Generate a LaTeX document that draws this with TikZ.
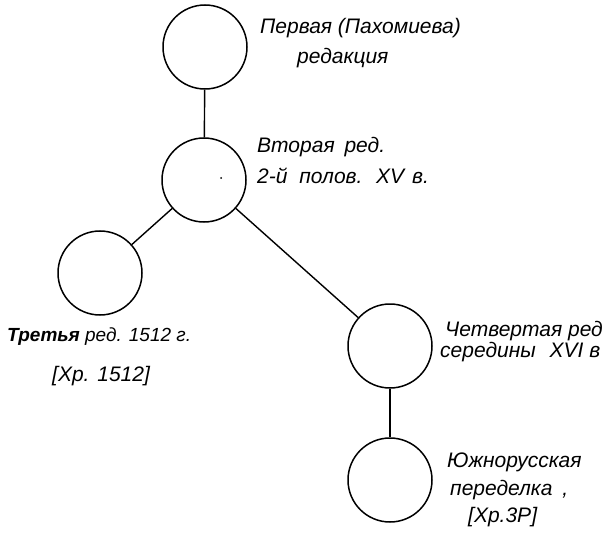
\documentclass[tikz,border=0pt]{standalone}
\usepackage{fontspec}
\setmainfont{Liberation Sans}
\begin{document}
\begin{tikzpicture}[x=1pt,y=-1pt,
  circ/.style={circle,draw,line width=1.5pt,minimum size=84pt,inner sep=0pt},
  link/.style={line width=1.4pt},
  lbl/.style={anchor=west,inner sep=0pt,font=\fontsize{21}{23}\selectfont\itshape}]
\useasboundingbox (0,0) rectangle (612,537);
\node[circ] (c1) at (205,47) {};
\node[circ] (c2) at (204,180) {};
\node[circ] (c3) at (100,273) {};
\node[circ] (c4) at (390,346) {};
\node[circ] (c5) at (390,480) {};
\draw[link] (c1) -- (c2);
\draw[link] (c2) -- (c3);
\draw[link] (c2) -- (c4);
\draw[link] (c4) -- (c5);
\fill (221,178) circle (1pt);
\node[lbl] (t1a) at (260,28) {Первая (Пахомиева)};
\node[lbl] (t1b) at (297,58) {редакция};
\node[lbl] (t2a) at (257,147) {Вторая\hspace{4pt} ред.};
\node[lbl] (t2b) at (257,176) {2-й\hspace{6pt} полов.\hspace{6pt} XV\hspace{2pt} в.};
\node[lbl,font=\fontsize{19}{21}\selectfont\itshape] (t3a) at (7,337) {\textbf{Третья} ред. 1512 г.};
\node[lbl] (t3b) at (52,376) {[Хр. 1512]};
\node[lbl] (t4a) at (445,331) {Четвертая ред};
\node[lbl] (t4b) at (440,352) {середины\hspace{8pt} XVI в};
\node[lbl] (t5a) at (447,462) {Южнорусская};
\node[lbl] (t5b) at (450,490) {переделка\hspace{4pt} ,};
\node[lbl] (t5c) at (468,517) {[Хр.3Р]};
\end{tikzpicture}
\end{document}
